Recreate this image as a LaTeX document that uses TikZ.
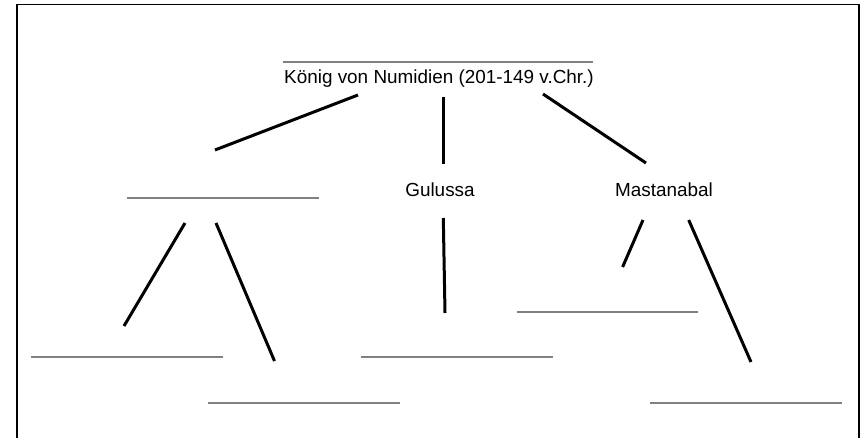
\documentclass[tikz,border=0pt]{standalone}
\usepackage{fontspec}
\setmainfont{Liberation Sans}
\definecolor{blankgray}{RGB}{128,128,128}
\newcommand\blankrule[1]{\textcolor{blankgray}{\rule{#1pt}{1.6pt}}}
\begin{document}
\begin{tikzpicture}[x=1pt,y=-1pt,
  lbl/.style={inner sep=0pt, anchor=base, font=\fontsize{18.9}{22}\selectfont},
  blank/.style={inner sep=0pt, outer sep=0pt},
  conn/.style={line width=3pt, black},
  frame/.style={line width=1.8pt, black}]
\useasboundingbox (0,0) rectangle (861,437);
% frame (bottom edge lies outside the picture)
\draw[frame] (17,445) -- (17,4.5) -- (859,4.5) -- (859,445);

% text nodes
\node[lbl] (king) at (439,83) {König von Numidien (201-149 v.Chr.)};
\node[lbl] (gulussa) at (440,196) {Gulussa};
\node[lbl] (mastanabal) at (664,196) {Mastanabal};

% blanks
\node[blank] (btop) at (438,61.7) {\blankrule{310}};
\node[blank] (bleft) at (223,197.7) {\blankrule{192}};
\node[blank] (bmr) at (607.5,311.7) {\blankrule{181}};
\node[blank] (bll) at (127,356.7) {\blankrule{192}};
\node[blank] (bmid) at (457,356.7) {\blankrule{192}};
\node[blank] (blr) at (304,402.7) {\blankrule{192}};
\node[blank] (brr) at (746,402.7) {\blankrule{192}};

% connector end points
\coordinate (k1) at (358,95);   \coordinate (l1) at (215,150);
\coordinate (k2) at (443.5,97); \coordinate (g1) at (443.5,164);
\coordinate (k3) at (543,94);   \coordinate (m1) at (646,163);
\coordinate (a1) at (185,223);  \coordinate (a2) at (124,326);
\coordinate (a3) at (216,223);  \coordinate (a4) at (274.5,361);
\coordinate (g2) at (443.3,218); \coordinate (g3) at (445,313);
\coordinate (m2) at (643,220);  \coordinate (m3) at (622.6,267);
\coordinate (m4) at (688.7,220); \coordinate (m5) at (751,362);

\draw[conn] (k1) -- (l1);
\draw[conn] (k2) -- (g1);
\draw[conn] (k3) -- (m1);
\draw[conn] (a1) -- (a2);
\draw[conn] (a3) -- (a4);
\draw[conn] (g2) -- (g3);
\draw[conn] (m2) -- (m3);
\draw[conn] (m4) -- (m5);
\end{tikzpicture}
\end{document}
